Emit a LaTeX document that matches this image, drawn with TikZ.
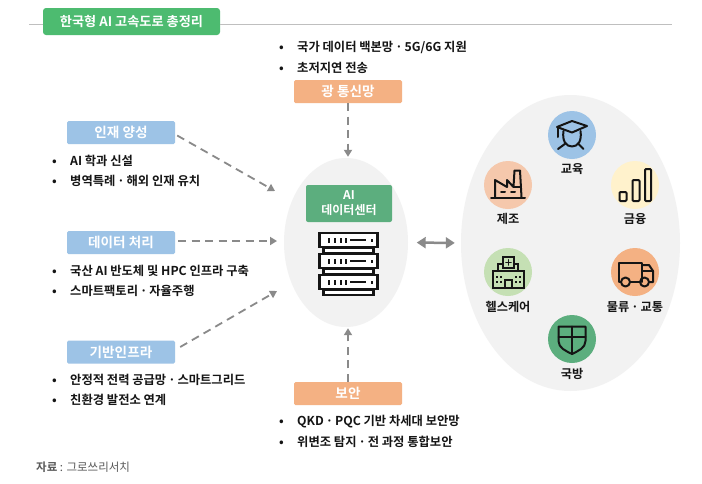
\documentclass[tikz,border=0pt]{standalone}
\usepackage{fontspec}
\setmainfont{Noto Sans CJK KR}[BoldFont={Noto Sans CJK KR Bold}]
\usetikzlibrary{arrows.meta,shapes.geometric}
\definecolor{titlegreen}{HTML}{4DBB70}
\definecolor{dcgreen}{HTML}{5CAE7E}
\definecolor{lblue}{HTML}{9DC3E6}
\definecolor{lorange}{HTML}{F4B183}
\definecolor{cpeach}{HTML}{F5C8AC}
\definecolor{cyellow}{HTML}{FFF2CC}
\definecolor{cgreen}{HTML}{C5E0B4}
\definecolor{blobgray}{HTML}{F2F2F2}
\definecolor{arrowgray}{HTML}{8A8A8A}
\definecolor{ink}{HTML}{151515}
\tikzset{
  lbl/.style={rounded corners=1.5pt,minimum width=108pt,minimum height=23pt,inner sep=0pt,text=white,font=\fontsize{13.6}{15}\selectfont\bfseries},
  blue lbl/.style={lbl,fill=lblue},
  orange lbl/.style={lbl,fill=lorange},
  item/.style={anchor=west,inner sep=0pt,text=ink,yshift=-0.8pt,font=\fontsize{12.3}{14}\selectfont\bfseries},
  dasharrow/.style={draw=arrowgray,line width=1.8pt,dash pattern=on 8pt off 5.5pt,-{Triangle[length=7pt,width=8pt]}},
  iconc/.style={circle,minimum size=48pt,inner sep=0pt},
  caption/.style={inner sep=0pt,text=ink,yshift=-0.8pt,font=\fontsize{12.2}{14}\selectfont\bfseries},
  icon/.style={draw=ink,line width=2pt,line join=round,line cap=round},
}
\newcommand{\bulitem}[1]{\makebox[18pt][l]{•}#1}
\newcommand{\mdot}{\hspace{.16em}·\hspace{.16em}}
\begin{document}
\begin{tikzpicture}[x=1pt,y=-1pt]
\useasboundingbox (0,0) rectangle (702,483);
\fill[white] (0,0) rectangle (702,483);
% title
\coordinate (ruleL) at (29,24);
\coordinate (ruleR) at (672,24);
\node[fill=titlegreen,rounded corners=3pt,minimum width=177pt,minimum height=27pt,inner sep=0pt,text=white,font=\fontsize{13.2}{15}\selectfont\bfseries] (title) at (131.5,21.5) {한국형 AI 고속도로 총정리};
\draw[draw=black!25,line width=0.7pt] (ruleL) -- (title.west |- ruleL);
\draw[draw=black!25,line width=0.7pt] (title.east |- ruleR) -- (ruleR);
% blobs
\node[ellipse,fill=blobgray,minimum width=124pt,minimum height=169pt,inner sep=0pt] (center) at (346,242.5) {};
\node[ellipse,fill=blobgray,minimum width=219pt,minimum height=296pt,inner sep=0pt] (right) at (570.5,243) {};
% labels
\node[blue lbl] (talent) at (121,132.5) {인재 양성};
\node[blue lbl] (data) at (121,242.5) {데이터 처리};
\node[blue lbl] (infra) at (121,352) {기반인프라};
\node[orange lbl] (optic) at (348,91.5) {광 통신망};
\node[orange lbl] (sec) at (348,393.5) {보안};
% AI box
\node[fill=dcgreen,rounded corners=2pt,minimum width=86pt,minimum height=37pt,inner sep=0pt,text=white,align=center,font=\fontsize{12}{15}\selectfont\bfseries] (dc) at (349,203.5) {AI\\데이터센터};
% bullet lists
\node[item] (t1) at (52,160) {\bulitem{AI 학과 신설}};
\node[item] (t2) at (52,180) {\bulitem{병역특례\mdot 해외 인재 유치}};
\node[item] (d1) at (52,270) {\bulitem{국산 AI 반도체 및 HPC 인프라 구축}};
\node[item] (d2) at (52,290) {\bulitem{스마트팩토리\mdot 자율주행}};
\node[item] (i1) at (52,379) {\bulitem{안정적 전력 공급망\mdot 스마트그리드}};
\node[item] (i2) at (52,399) {\bulitem{친환경 발전소 연계}};
\node[item] (o1) at (279,47) {\bulitem{국가 데이터 백본망\mdot 5G/6G 지원}};
\node[item] (o2) at (279,67) {\bulitem{초저지연 전송}};
\node[item] (s1) at (279,421) {\bulitem{QKD\mdot PQC 기반 차세대 보안망}};
\node[item] (s2) at (279,441) {\bulitem{위변조 탐지\mdot 전 과정 통합보안}};
\node[anchor=west,inner sep=0pt,text=black!65,font=\fontsize{11.5}{13}\selectfont] (src) at (36,467) {\textbf{자료} : 그로쓰리서치};
% connectors
\coordinate (a1) at (275,191);
\coordinate (a2) at (277,241);
\coordinate (a3) at (277,291);
\coordinate (s1a) at ([shift={(2,3)}]talent.east);
\coordinate (s2a) at (178,241);
\coordinate (s3a) at ([shift={(5,-5)}]infra.east);
\draw[dasharrow] (s1a) -- (a1);
\draw[dasharrow] (s2a) -- (a2);
\draw[dasharrow] (s3a) -- (a3);
\draw[dasharrow,shorten >=1pt] (optic.south) -- (optic.south |- center.north);
\draw[dasharrow,shorten >=1pt] (sec.north) -- (sec.north |- center.south);
\draw[draw=arrowgray,line width=2.5pt,{Triangle[length=9pt,width=11pt]}-{Triangle[length=9pt,width=11pt]},shorten <=8.5pt,shorten >=6pt] (center.east) -- (right.west);
% server icon
\foreach \yy in {232,253,274}{
  \draw[draw=ink,line width=2.2pt,fill=white] (323.5,\yy+16) rectangle (373.5,\yy+21);
  \draw[draw=ink,line width=2.8pt,fill=white] (319.4,\yy+1) rectangle (377.6,\yy+15);
  \foreach \xx in {329,335,341,346}{\fill[ink] (\xx-1.1,\yy+5.5) rectangle (\xx+1.1,\yy+10.5);}
  \draw[draw=ink,line width=2pt] (350,\yy+8) -- (366,\yy+8);
  \fill[ink] (370.5,\yy+6.5) rectangle (373.2,\yy+9.5);
}
% icon circles
\node[iconc,fill=lblue] (edu) at (572,135) {};
\node[iconc,fill=cpeach] (mfg) at (508,185) {};
\node[iconc,fill=cyellow] (fin) at (635,185) {};
\node[iconc,fill=cgreen] (hlt) at (508,272) {};
\node[iconc,fill=lorange] (log) at (635,272) {};
\node[iconc,fill=dcgreen] (def) at (572,339) {};
\node[caption] (edul) at (572,168) {교육};
\node[caption] (mfgl) at (508,218) {제조};
\node[caption] (finl) at (635,218) {금융};
\node[caption] (hltl) at (508,306) {헬스케어};
\node[caption] (logl) at (635,306) {물류\mdot 교통};
\node[caption] (defl) at (572,373) {국방};
% education icon
\draw[icon] (557,127) -- (572,121) -- (587,126) -- (572,132.5) -- cycle;
\draw[icon] (558,127) -- (558,137);
\draw[icon] (563.5,131) .. controls (562,141) and (566,146.5) .. (572,146.5) .. controls (578,146.5) and (582,141) .. (580.5,131);
\draw[icon] (558,149) -- (565.5,143.5);
\draw[icon] (583.5,149) -- (578,143.5);
% factory icon
\draw[icon] (491,197.5) -- (525,197.5);
\draw[icon] (495,197) -- (495,180) -- (507,187) -- (507,180) -- (513.5,187) -- (514.5,170.5) -- (520,170.5) -- (521.5,197);
\draw[icon] (513.5,187) -- (521,187);
\draw[icon] (501,192) -- (505,192);
\draw[icon] (511,192) -- (515,192);
% finance icon
\draw[icon,rounded corners=1pt] (619.5,192) rectangle (626.5,201);
\draw[icon,rounded corners=1pt] (632.5,180) rectangle (639.5,201);
\draw[icon,rounded corners=1pt] (645,169) rectangle (651,201);
% healthcare icon
\draw[icon,line join=miter] (492.5,271) rectangle (523.5,288);
\draw[icon,line join=miter] (498,270.5) -- (498,263.5) -- (503,263.5) (514,263.5) -- (518,263.5) -- (518,270.5);
\draw[icon,line join=miter] (503,257) rectangle (514,268);
\draw[icon,line width=1.6pt] (508.5,259.8) -- (508.5,265) (506,262.4) -- (511,262.4);
\draw[icon,line join=miter] (505,288) -- (505,280) -- (512,280) -- (512,288);
\foreach \xx in {497,501,516,520}{\foreach \yy in {277,282}{\fill[ink] (\xx-1.1,\yy-1.1) rectangle (\xx+1.1,\yy+1.1);}}
% truck icon
\draw[icon] (620,282) -- (618.5,282) -- (618.5,262.5) -- (642,262.5) -- (642,282);
\draw[icon] (642,265) -- (649,265) -- (653,271) -- (653,282) -- (650,282);
\draw[icon] (642,271) -- (653,271);
\draw[icon] (631,282) -- (639,282);
\draw[icon] (625.5,282) circle (4.5pt);
\draw[icon] (644.5,282) circle (4.5pt);
% shield icon
\draw[icon] (558.5,326.5) -- (585.5,326.5) -- (585.5,341) .. controls (585.5,348) and (578,351) .. (572,354) .. controls (566,351) and (558.5,348) .. (558.5,341) -- cycle;
\draw[icon] (572,326.5) -- (572,354) (558.5,337) -- (585.5,337);
\end{tikzpicture}
\end{document}
